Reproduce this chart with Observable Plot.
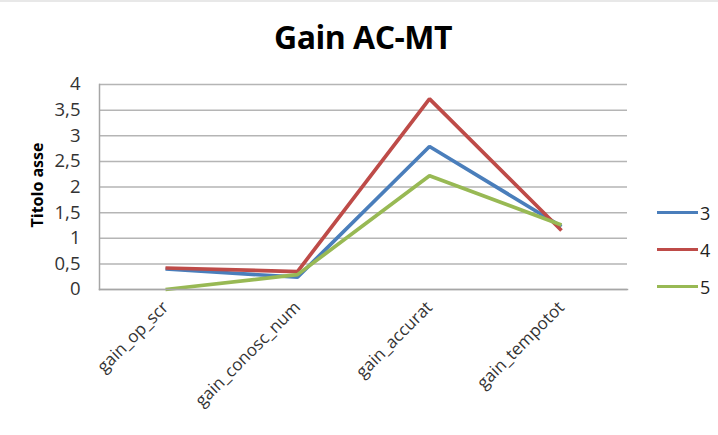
<!DOCTYPE html>
<html>
<head>
<meta charset="utf-8">
<script src="https://cdn.jsdelivr.net/npm/d3@7"></script>
<script src="https://cdn.jsdelivr.net/npm/@observablehq/plot@0.6"></script>
<style>
  html, body { margin: 0; padding: 0; background: #fff; }
  #wrap { position: relative; width: 718px; height: 435px; overflow: hidden; font-family: "Open Sans", sans-serif; }
  #topline { position: absolute; left: 0; top: 0; width: 718px; height: 2px; background: #e8e8e8; }
  #title { position: absolute; left: 0; width: 726px; top: 15px; text-align: center; font-weight: bold; font-size: 32px; color: #000; letter-spacing: -0.5px; }
  #ytitle { position: absolute; left: 37px; top: 185px; transform: translate(-50%, -50%) rotate(-90deg); font-weight: bold; font-size: 16px; color: #000; white-space: nowrap; }
  #legend { position: absolute; left: 657px; top: 194px; font-size: 18px; color: #222; }
  .item { display: flex; align-items: center; height: 37px; }
  .sw { width: 41px; height: 3.5px; margin-right: 2px; }
  svg { position: absolute; left: 0; top: 0; }
</style>
</head>
<body>
<div id="wrap">
  <div id="topline"></div>
  <div id="title">Gain AC-MT</div>
  <div id="chart"></div>
  <div id="ytitle">Titolo asse</div>
  <div id="legend"></div>
</div>
<script>
const categories = ["gain_op_scr", "gain_conosc_num", "gain_accurat", "gain_tempotot"];
const seriesNames = ["3", "4", "5"];
const series3 = [0.40, 0.24, 2.79, 1.23];
const series4 = [0.42, 0.35, 3.72, 1.15];
const series5 = [0.00, 0.29, 2.22, 1.26];
const colors = ["#4a7ebb", "#be4b48", "#98b954"];
const yTicks = [0, 0.5, 1, 1.5, 2, 2.5, 3, 3.5, 4];

const allSeries = [series3, series4, series5];
const data = [];
allSeries.forEach((vals, si) => {
  vals.forEach((v, i) => data.push({cat: categories[i], value: v, series: seriesNames[si]}));
});

const fmt = d => String(d).replace(".", ",");

const chart = Plot.plot({
  width: 718,
  height: 435,
  marginLeft: 99,
  marginRight: 91,
  marginTop: 84,
  marginBottom: 146,
  style: {fontFamily: "Open Sans, sans-serif", background: "transparent", overflow: "visible"},
  x: {type: "point", domain: categories, padding: 0.5, align: 0.5},
  y: {domain: [0, 4]},
  color: {domain: seriesNames, range: colors},
  marks: [
    Plot.gridY(yTicks, {stroke: "#b5b5b5", strokeOpacity: 1, strokeWidth: 1.5}),
    Plot.axisY({ticks: yTicks, tickFormat: fmt, tickSize: 0, tickPadding: 19, fontSize: 18.5, fill: "#333", label: null}),
    Plot.axisX({tickRotate: -45, tickSize: 0, tickPadding: 15, fontSize: 17, fill: "#333", label: null}),
    Plot.line(data, {x: "cat", y: "value", z: "series", stroke: "series", strokeWidth: 3.7, strokeLinejoin: "miter", strokeLinecap: "butt"}),
    Plot.frame({anchor: "left", stroke: "#a6a6a6", strokeWidth: 1.5}),
    Plot.frame({anchor: "bottom", stroke: "#a6a6a6", strokeWidth: 1.5})
  ]
});
document.getElementById("chart").appendChild(chart);

const legend = document.getElementById("legend");
seriesNames.forEach((s, i) => {
  const it = document.createElement("div");
  it.className = "item";
  it.innerHTML = `<div class="sw" style="background:${colors[i]}"></div><span>${s}</span>`;
  legend.appendChild(it);
});
</script>
</body>
</html>
